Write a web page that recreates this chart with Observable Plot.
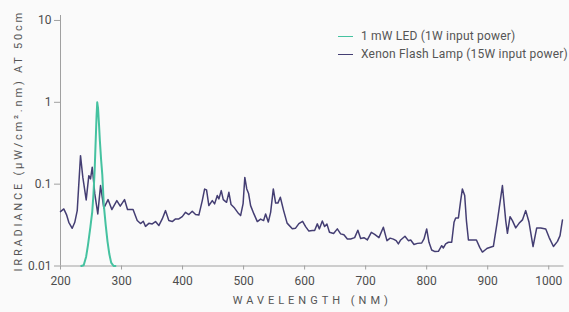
<!DOCTYPE html>
<html>
<head>
<meta charset="utf-8">
<script src="https://cdn.jsdelivr.net/npm/d3@7"></script>
<script src="https://cdn.jsdelivr.net/npm/@observablehq/plot@0.6"></script>
<style>
  html, body { margin: 0; padding: 0; background: #fafafa; }
  #wrap { position: relative; width: 569px; height: 312px; font-family: Roboto, sans-serif; }
  #legend { position: absolute; left: 338px; top: 28px; font-size: 12px; color: #555; line-height: 17.5px; letter-spacing: 0.2px; }
  #legend .item { display: flex; align-items: center; white-space: nowrap; }
  #legend .sw { display: inline-block; width: 15px; height: 0; border-top: 1.5px solid; margin-right: 8px; }
</style>
</head>
<body>
<div id="wrap"><div id="legend"></div></div>
<script>
const seriesNames = ["1 mW LED (1W input power)", "Xenon Flash Lamp (15W input power)"];
const seriesColors = ["#45c2a0", "#443e73"];

const xTicks = [200, 300, 400, 500, 600, 700, 800, 900, 1000];
const yTicks = [0.01, 0.1, 1, 10];

const ledWavelength = [234, 238, 242, 245, 249, 252, 254, 256, 258, 259, 260.2, 261.5, 263, 264.5, 266.5, 268.5, 271, 274, 277, 280, 283, 287, 290];
const ledIrradiance = [0.01, 0.0102, 0.013, 0.018, 0.03, 0.046, 0.075, 0.15, 0.4, 0.66, 1.0, 0.85, 0.55, 0.34, 0.2, 0.13, 0.055, 0.032, 0.02, 0.014, 0.011, 0.01, 0.01];

const xenonWavelength = [200, 205.4, 209.8, 213.6, 219.2, 223.4, 227.4, 232.8, 236.6, 242.1, 246.4, 249.2, 252, 256.2, 261.1, 265.6, 271, 277.9, 284.1, 292.3, 297.9, 304.9, 309.8, 318.9, 325.7, 331.1, 335.6, 339.3, 344.8, 350.3, 355.7, 361.1, 366.7, 372.1, 377.5, 383.1, 388.5, 393.9, 399.5, 404.9, 410.3, 415.9, 421.3, 426.7, 432.3, 436.1, 439.3, 443.1, 448.7, 452.5, 456.9, 459.5, 463.4, 466.7, 472.1, 475.9, 479.5, 485.2, 491.8, 495.1, 499.2, 502, 505.2, 508.2, 511.5, 516.9, 522.5, 527.9, 532.8, 536.1, 540.5, 544.3, 548.7, 552.5, 556.2, 560.2, 565.6, 571.3, 579.8, 585.2, 590.6, 596.7, 601.6, 607, 612.6, 616.4, 620.8, 624.1, 629, 632.8, 636.6, 640.7, 647.5, 653.6, 659, 664.4, 670, 675.4, 682, 687.2, 691.8, 697.2, 702.8, 709.3, 714.8, 721.8, 729, 734.9, 740.2, 745.4, 750, 753.6, 757.4, 764.4, 770, 773.8, 779.2, 784.8, 791.8, 795.6, 800, 803.8, 808.2, 813.6, 819.2, 824.6, 827.4, 831.1, 835.6, 841, 844.8, 847.5, 852, 855.7, 858.5, 862.3, 865.1, 868.4, 874.9, 881.5, 886.9, 891.3, 896.7, 899.5, 909.3, 915.9, 924.1, 929.5, 932.3, 936.6, 940.5, 945.9, 951.3, 956.9, 962.3, 967.7, 974.3, 980.3, 986.9, 995.1, 1000.5, 1007.7, 1014.3, 1018.5, 1022.5];
const xenonIrradiance = [0.0462, 0.0498, 0.0425, 0.0342, 0.0289, 0.0342, 0.0475, 0.223, 0.121, 0.0642, 0.127, 0.116, 0.161, 0.076, 0.0433, 0.096, 0.051, 0.0648, 0.0489, 0.063, 0.0539, 0.0648, 0.0489, 0.0489, 0.0359, 0.033, 0.0352, 0.0305, 0.0332, 0.0327, 0.0349, 0.0312, 0.0376, 0.0475, 0.0359, 0.0349, 0.0376, 0.0376, 0.0401, 0.0453, 0.0425, 0.0466, 0.0425, 0.0419, 0.063, 0.087, 0.085, 0.0547, 0.063, 0.0574, 0.0725, 0.066, 0.0834, 0.0648, 0.06, 0.0795, 0.0563, 0.051, 0.0437, 0.0413, 0.0579, 0.121, 0.0875, 0.0767, 0.0547, 0.0433, 0.0349, 0.0374, 0.0359, 0.0433, 0.0344, 0.0453, 0.0875, 0.0587, 0.0587, 0.0691, 0.0475, 0.0334, 0.0286, 0.029, 0.033, 0.0352, 0.0303, 0.0267, 0.0271, 0.0271, 0.0327, 0.0284, 0.0354, 0.0303, 0.0325, 0.0258, 0.0249, 0.0284, 0.0247, 0.0241, 0.0214, 0.0214, 0.0222, 0.0273, 0.0217, 0.0222, 0.0208, 0.0258, 0.0244, 0.0222, 0.0297, 0.0204, 0.0219, 0.0213, 0.0204, 0.0186, 0.0208, 0.0231, 0.0204, 0.0208, 0.0183, 0.0189, 0.0191, 0.0214, 0.0284, 0.0195, 0.0157, 0.015, 0.0151, 0.0177, 0.0166, 0.0186, 0.0195, 0.0195, 0.0342, 0.0387, 0.0387, 0.063, 0.0875, 0.0725, 0.0359, 0.0208, 0.0208, 0.0208, 0.0169, 0.0148, 0.0159, 0.0165, 0.0174, 0.0359, 0.096, 0.0359, 0.0251, 0.0401, 0.0359, 0.0292, 0.0332, 0.0366, 0.0475, 0.0342, 0.0173, 0.0292, 0.0292, 0.0284, 0.0224, 0.0173, 0.02, 0.0235, 0.0366];

const led = ledWavelength.map((w, i) => ({w, v: ledIrradiance[i]}));
const xenon = xenonWavelength.map((w, i) => ({w, v: xenonIrradiance[i]}));

const chart = Plot.plot({
  width: 569,
  height: 312,
  marginTop: 15,
  marginBottom: 46.5,
  marginLeft: 60,
  marginRight: 5.5,
  style: {background: "#fafafa", fontFamily: "Roboto, sans-serif", fontSize: "12px", color: "#4d4d4d", overflow: "visible"},
  x: {domain: [200, 1025]},
  y: {type: "log", domain: [0.01, 11.5]},
  marks: [
    Plot.ruleY([0.01], {stroke: "#a0a0a0"}),
    Plot.ruleX([200], {stroke: "#a0a0a0"}),
    Plot.axisX({ticks: xTicks, tickFormat: d => String(d), tickSize: 4, tickPadding: 6, stroke: "#a0a0a0", label: "WAVELENGTH (NM)", labelAnchor: "center", labelOffset: 38, labelArrow: "none"}),
    Plot.axisY({ticks: yTicks, tickFormat: d => String(d), tickSize: 6, tickPadding: 3, stroke: "#a0a0a0", label: "IRRADIANCE (µW/cm².nm) AT 50cm", labelAnchor: "center", labelOffset: 46, labelArrow: "none"}),
    Plot.line(xenon, {x: "w", y: "v", stroke: seriesColors[1], strokeWidth: 1.5}),
    Plot.line(led, {x: "w", y: "v", stroke: seriesColors[0], strokeWidth: 2})
  ]
});

d3.select(chart).selectAll('g[aria-label="x-axis label"] text').attr("letter-spacing", "4px").attr("fill", "#555").style("font-size", "11px");
d3.select(chart).selectAll('g[aria-label="y-axis label"] text').attr("letter-spacing", "2.8px").attr("fill", "#555").style("font-size", "11px");

const wrap = document.getElementById("wrap");
wrap.insertBefore(chart, wrap.firstChild);

const legend = document.getElementById("legend");
seriesNames.forEach((name, i) => {
  const item = document.createElement("div");
  item.className = "item";
  const sw = document.createElement("span");
  sw.className = "sw";
  sw.style.borderColor = seriesColors[i];
  item.appendChild(sw);
  item.appendChild(document.createTextNode(name));
  legend.appendChild(item);
});
</script>
</body>
</html>
